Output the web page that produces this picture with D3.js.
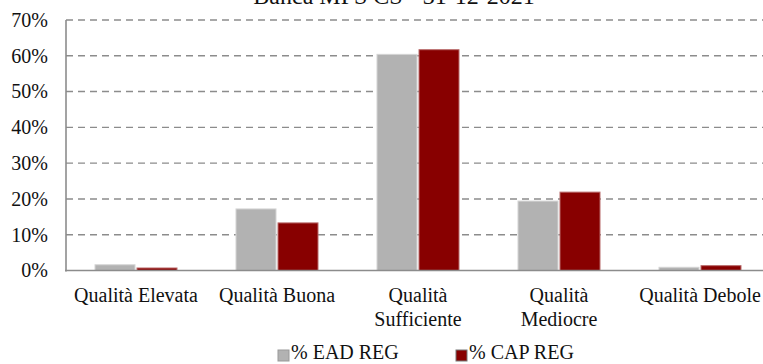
<!DOCTYPE html>
<html><head><meta charset="utf-8">
<script src="https://cdn.jsdelivr.net/npm/d3@7/dist/d3.min.js"></script>
<style>
html,body{margin:0;padding:0;background:#fff;overflow:hidden;}
svg{display:block;}
</style></head>
<body>
<svg id="chart" width="763" height="364"></svg>
<script>
const title = "Banca MPS CS - 31-12-2021";
const categories = ["Qualità Elevata","Qualità Buona","Qualità Sufficiente","Qualità Mediocre","Qualità Debole"];
const categoryLines = [["Qualità Elevata"],["Qualità Buona"],["Qualità","Sufficiente"],["Qualità","Mediocre"],["Qualità Debole"]];
const seriesNames = ["% EAD REG","% CAP REG"];
const eadReg = [0.016, 0.172, 0.604, 0.194, 0.009];
const capReg = [0.007, 0.133, 0.617, 0.219, 0.0135];
const yTicks = [0,0.1,0.2,0.3,0.4,0.5,0.6,0.7];
const colors = ["#b2b2b2","#880000"];
const strokes = ["#d4d4d4","#b86a6a"];
const FONT = "Liberation Serif";

const svg = d3.select("#chart");
const x0 = d3.scaleBand().domain(categories).range([65.5, 770.5]).padding(0);
const x1 = d3.scaleBand().domain(seriesNames).range([29.5, 111.5]).paddingInner(2/42).paddingOuter(0);
const y = d3.scaleLinear().domain([0,0.7]).range([270.5, 20]);

// gridlines
svg.append("g").selectAll("line").data(yTicks.slice(1)).join("line")
  .attr("x1", 66).attr("x2", 763)
  .attr("y1", d=>y(d)).attr("y2", d=>y(d))
  .attr("stroke", "#8c8c8c").attr("stroke-width", 1.4).attr("stroke-dasharray", "7,5");

// y labels
const yAxis = d3.axisLeft(y).tickValues(yTicks).tickFormat(d3.format(".0%")).tickSize(0).tickPadding(18);
const ga = svg.append("g").attr("transform","translate(66,0)").call(yAxis);
ga.select(".domain").remove();
ga.attr("font-family", null).attr("font-size", null);
ga.selectAll("text").style("font-size", "20px").attr("fill", "#111").style("font-family", FONT);

// bars
const data = categories.map((c,i)=>({cat:c, vals:[eadReg[i], capReg[i]]}));
const groups = svg.append("g").selectAll("g").data(data).join("g")
  .attr("transform", d=>`translate(${x0(d.cat)},0)`);
groups.selectAll("rect").data(d=>d.vals.map((v,j)=>({s:seriesNames[j], v, j}))).join("rect")
  .attr("x", d=>x1(d.s)).attr("width", x1.bandwidth())
  .attr("y", d=>y(d.v)).attr("height", d=>y(0)-y(d.v))
  .attr("fill", d=>colors[d.j]).attr("stroke", d=>strokes[d.j]).attr("stroke-width", 1);

// axes lines
svg.append("line").attr("x1",66).attr("x2",66).attr("y1",y(0.7)).attr("y2",y(0)+1)
  .attr("stroke","#8c8c8c").attr("stroke-width",1.6);
svg.append("line").attr("x1",65).attr("x2",763).attr("y1",y(0)).attr("y2",y(0))
  .attr("stroke","#8c8c8c").attr("stroke-width",1.6);

// category labels
const cl = svg.append("g").selectAll("text").data(categories).join("text")
  .attr("x", d=>x0(d)+x0.bandwidth()/2).attr("y", 302)
  .attr("text-anchor","middle").style("font-size","20px").style("font-family",FONT).attr("fill","#111");
cl.each(function(d,i){
  d3.select(this).selectAll("tspan").data(categoryLines[i]).join("tspan")
    .attr("x", x0(d)+x0.bandwidth()/2).attr("dy",(t,k)=>k===0?0:23.5).text(t=>t);
});

// title
svg.append("text").attr("x",394).attr("y",4).attr("text-anchor","middle")
  .style("font-size","24px").style("font-family",FONT).attr("fill","#111").text(title);

// legend
const legX = [278, 456];
const lg = svg.append("g").selectAll("g").data(seriesNames).join("g")
  .attr("transform",(d,i)=>`translate(${legX[i]},0)`);
lg.append("rect").attr("x",0).attr("y",350).attr("width",11).attr("height",11)
  .attr("fill",(d,i)=>colors[i]).attr("stroke",(d,i)=>i===0?"#999":"#777").attr("stroke-width",1);
lg.append("text").attr("x",13).attr("y",359).style("font-size","20px").style("font-family",FONT)
  .attr("fill","#111").text(d=>d);
</script>
</body></html>
